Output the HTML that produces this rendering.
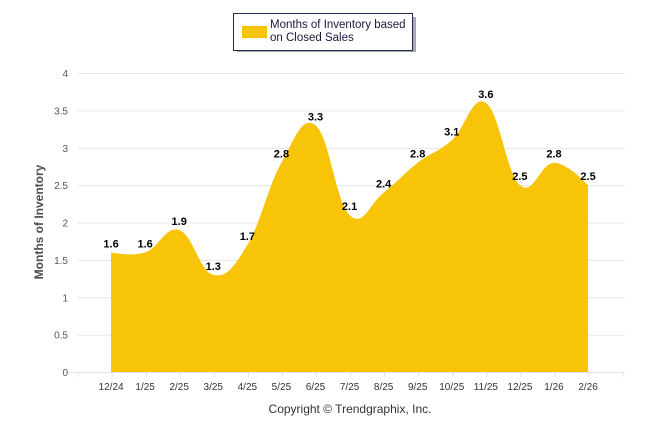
<!DOCTYPE html>
<html><head><meta charset="utf-8"><style>
body{margin:0;background:#fff;width:646px;height:434px;overflow:hidden;font-family:"Liberation Sans",sans-serif}
</style></head><body>
<svg id="chart" width="646" height="434" xmlns="http://www.w3.org/2000/svg" font-family="Liberation Sans, sans-serif">
<g id="grid"></g>
<g id="series"></g>
<g id="xaxis"></g>
<g id="yaxis"></g>
<g id="labels"></g>
<text transform="translate(43,222) rotate(-90)" text-anchor="middle" font-size="12" font-weight="bold" fill="#4d4d4d">Months of Inventory</text>
<text x="350" y="413" text-anchor="middle" font-size="12" fill="#333">Copyright © Trendgraphix, Inc.</text>
<g>
<rect x="235" y="15" width="179" height="35" fill="#555" opacity="0.5" transform="translate(2,2)"/>
<rect x="233.5" y="13.5" width="179" height="37" fill="#fff" stroke="#1f2f50" stroke-width="1"/>
<rect x="242" y="26" width="25" height="12" fill="#f7c408"/>
<text x="270" y="28" font-size="11.5" fill="#1a1a3a">Months of Inventory based</text>
<text x="270" y="41" font-size="11.5" fill="#1a1a3a">on Closed Sales</text>
</g>
</svg>
<script>
const categories=["12/24","1/25","2/25","3/25","4/25","5/25","6/25","7/25","8/25","9/25","10/25","11/25","12/25","1/26","2/26"];
const values=[1.6,1.6,1.9,1.3,1.7,2.8,3.3,2.1,2.4,2.8,3.1,3.6,2.5,2.8,2.5];
const yTicks=[0,0.5,1,1.5,2,2.5,3,3.5,4];
const NS="http://www.w3.org/2000/svg";
const x0=78,band=34.07,y0=372,yScale=74.75;
const xp=i=>x0+band*(i+1)-1;
const yp=v=>y0-v*yScale;
function mk(tag,attrs,parent){const e=document.createElementNS(NS,tag);for(const k in attrs)e.setAttribute(k,attrs[k]);parent.appendChild(e);return e;}
const grid=document.getElementById('grid'),ya=document.getElementById('yaxis'),xa=document.getElementById('xaxis');
yTicks.forEach(t=>{
 const l=mk('line',{x1:x0,x2:625,y1:yp(t)+0.5,y2:yp(t)+0.5,stroke:'#e6e6e6'},grid);
 
 
 const tx=mk('text',{x:68,y:yp(t)+4,'text-anchor':'end','font-size':'10',fill:'#555'},ya);
 
 
 tx.textContent=t;
});
mk('line',{x1:x0-10,x2:625,y1:y0+0.5,y2:y0+0.5,stroke:'#e0e0e0'},xa);
for(let k=0;k<=categories.length+1;k++){mk('line',{x1:x0+band*k,x2:x0+band*k,y1:y0,y2:y0+5,stroke:'#e0e0e0'},xa);}
categories.forEach((c,i)=>{
 const t=mk('text',{x:xp(i),y:y0+18,'text-anchor':'middle','font-size':'10',fill:'#333'},xa);
 
 
 t.textContent=c;
});
const pts=values.map((v,i)=>[xp(i),yp(v)]);
let d=`M${pts[0][0]},${pts[0][1]}`;
const sm=1.5,den=2.5;
function ctrl(i){
 const p=pts[i],a=pts[i-1],b=pts[i+1];
 let lx=(sm*p[0]+a[0])/den,ly=(sm*p[1]+a[1])/den,rx=(sm*p[0]+b[0])/den,ry=(sm*p[1]+b[1])/den;
 let corr=0;if(rx!==lx)corr=((ry-ly)*(rx-p[0]))/(rx-lx)+p[1]-ry;
 ly+=corr;ry+=corr;
 return [lx,ly,rx,ry];
}
const cs=pts.map((p,i)=>(i>0&&i<pts.length-1)?ctrl(i):[p[0],p[1],p[0],p[1]]);
for(let i=1;i<pts.length;i++){
 d+=` C${cs[i-1][2]},${cs[i-1][3]} ${cs[i][0]},${cs[i][1]} ${pts[i][0]},${pts[i][1]}`;
}
const area=d+` L${pts[pts.length-1][0]},${y0} L${pts[0][0]},${y0} Z`;
const ar=mk('path',{d:area,fill:'#f7c408'},document.getElementById('series'));


const lb=document.getElementById('labels');
values.forEach((v,i)=>{
 const t=mk('text',{x:xp(i),y:yp(v)-5,'text-anchor':'middle','font-size':'11','font-weight':'bold',fill:'#000'},lb);
 
 
 t.textContent=v;
});
</script>
</body></html>
